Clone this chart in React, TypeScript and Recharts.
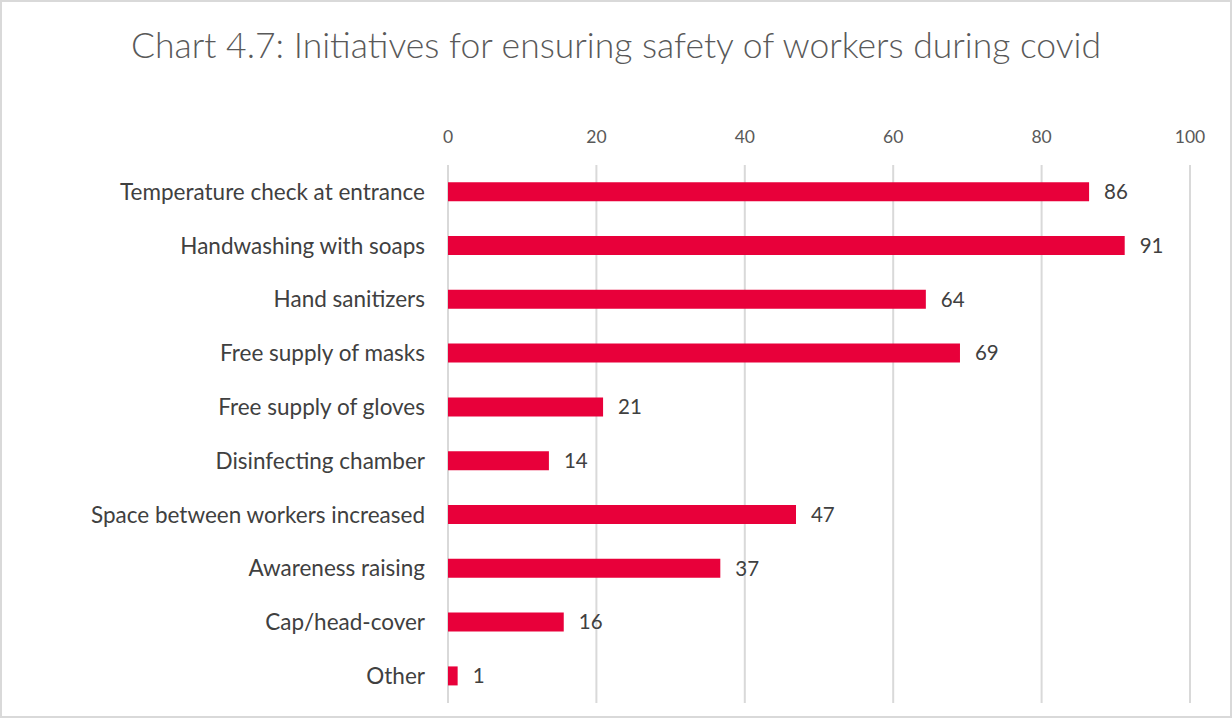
import { BarChart, Bar, XAxis, YAxis, CartesianGrid, LabelList } from 'recharts';

const categories = [
  'Temperature check at entrance',
  'Handwashing with soaps ',
  'Hand sanitizers',
  'Free supply of masks',
  'Free supply of gloves',
  'Disinfecting chamber',
  'Space between workers increased',
  'Awareness raising',
  'Cap/head-cover ',
  'Other',
];
// bar lengths; labels show them rounded
const values = [86.4, 91.2, 64.4, 69, 20.9, 13.6, 46.9, 36.7, 15.6, 1.3];
const xTicks = [0, 20, 40, 60, 80, 100];

const data = categories.map((name, i) => ({ name, value: values[i] }));

const FONT = 'Lato, "Open Sans", sans-serif';

export default function App() {
  return (
    <div
      style={{
        position: 'fixed',
        left: 0,
        top: 0,
        width: 1232,
        height: 718,
        background: '#fff',
        fontFamily: FONT,
      }}
    >
      <div
        style={{
          position: 'absolute',
          left: 0,
          top: 0,
          width: 1228,
          height: 714,
          border: '2px solid #d9d9d9',
          pointerEvents: 'none',
        }}
      />
      <div
        style={{
          position: 'absolute',
          left: 0,
          top: 23,
          width: 1232,
          textAlign: 'center',
          fontSize: 35.5,
          fontWeight: 300,
          color: '#595959',
        }}
      >
        Chart 4.7: Initiatives for ensuring safety of workers during covid
      </div>
      <BarChart
        width={1232}
        height={718}
        data={data}
        layout="vertical"
        margin={{ top: 120, right: 42, bottom: 15, left: 0 }}
        barCategoryGap="32%"
      >
        <CartesianGrid horizontal={false} stroke="#d9d9d9" strokeWidth={2} />
        <XAxis
          type="number"
          orientation="top"
          domain={[0, 100]}
          ticks={xTicks}
          axisLine={false}
          tickLine={false}
          height={45}
          tickMargin={16}
          tick={{ fill: '#595959', fontSize: 17.5, fontFamily: FONT }}
        />
        <YAxis
          type="category"
          dataKey="name"
          width={448}
          axisLine={false}
          tickLine={false}
          tickMargin={17}
          tick={{ fill: '#404040', fontSize: 22.5, fontFamily: FONT }}
        />
        <Bar dataKey="value" fill="#E8003A" isAnimationActive={false}>
          <LabelList
            dataKey="value"
            position="right"
            offset={15}
            fill="#404040"
            fontSize={20.5}
            fontFamily={FONT}
            formatter={(v: number) => Math.round(v)}
          />
        </Bar>
      </BarChart>
    </div>
  );
}
